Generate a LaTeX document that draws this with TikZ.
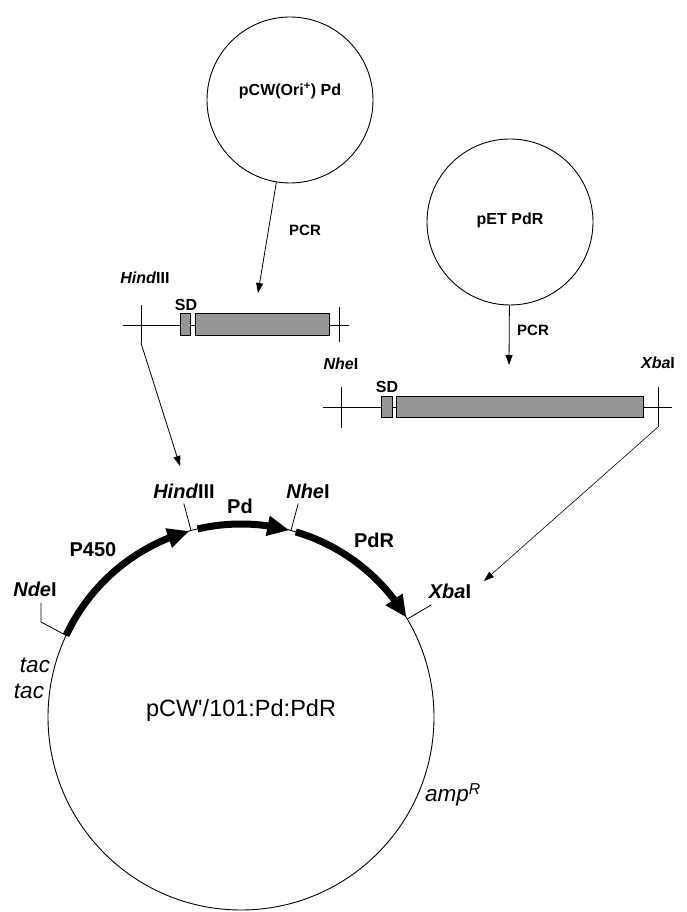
\documentclass[tikz,border=0pt]{standalone}
\usepackage{fontspec}
\setmainfont{Liberation Sans}
\usetikzlibrary{arrows.meta,bending}
\definecolor{boxgray}{RGB}{150,150,150}
\begin{document}
\begin{tikzpicture}[x=1pt,y=1pt,
  plasmid/.style={circle,draw,line width=0.9pt,inner sep=0},
  lbl/.style={font=\fontsize{16}{19}\selectfont\bfseries,inner sep=0},
  pcrlbl/.style={font=\fontsize{15}{18}\selectfont\bfseries,inner sep=0},
  mlbl/.style={font=\fontsize{20}{23}\selectfont\bfseries,inner sep=0},
  ilbl/.style={font=\fontsize{22.5}{26}\selectfont\itshape,inner sep=0},
  gene/.style={draw,line width=0.8pt,fill=boxgray,inner sep=0,anchor=south west,minimum height=22pt},
  thinline/.style={line width=0.8pt},
  flow/.style={line width=0.8pt,-{Triangle[length=10pt,width=7pt]}},
  orf/.style={line width=7pt,-{Triangle[length=22pt,width=19pt,flex]}}
]
\useasboundingbox (0,0) rectangle (687,912);

% source plasmids
\node[plasmid,minimum size=166pt] (pcw) at (290,812) {};
\node[lbl] (pcwlbl) at (290,821) {pCW(Ori\textsuperscript{+}) Pd};
\node[plasmid,minimum size=166pt] (pet) at (510,690) {};
\node[lbl] (petlbl) at (510,692) {pET PdR};

% PCR arrows
\coordinate (f1in) at (258,619);
\coordinate (f2in) at (509,547);
\draw[flow] (pcw) -- (f1in);
\draw[flow] (pet) -- (f2in);
\node[pcrlbl] (pcr1) at (305,682) {PCR};
\node[pcrlbl] (pcr2) at (533,582) {PCR};

% fragment 1 (Pd)
\coordinate (a1) at (123,587);
\coordinate (b1) at (349,587);
\draw[thinline] (a1) -- (b1);
\coordinate (h1t) at (141,607);
\coordinate (h1b) at (141,569);
\draw[thinline] (h1t) -- (h1b);
\coordinate (n1t) at (339,605);
\coordinate (n1b) at (339,570);
\draw[thinline] (n1t) -- (n1b);
\node[gene,minimum width=10pt] (sd1) at (180,576) {};
\node[gene,minimum width=134pt] (pd1) at (195,576) {};
\node[lbl] (hind1) at (145,634) {\textit{Hind}III};
\node[lbl] (sd1lbl) at (186,607) {SD};
\node[lbl] (nhe1) at (341,548) {\textit{Nhe}I};

% fragment 2 (PdR)
\coordinate (a2) at (323,505);
\coordinate (b2) at (672,505);
\draw[thinline] (a2) -- (b2);
\coordinate (n2t) at (341,525);
\coordinate (n2b) at (341,484);
\draw[thinline] (n2t) -- (n2b);
\coordinate (x2t) at (658,525);
\coordinate (x2b) at (658,485);
\draw[thinline] (x2t) -- (x2b);
\node[gene,minimum width=11pt,minimum height=21pt] (sd2) at (381,494) {};
\node[gene,minimum width=247pt,minimum height=21pt] (pdr2) at (396,494) {};
\node[lbl] (sd2lbl) at (387,525) {SD};
\node[lbl] (xba2) at (658,549) {\textit{Xba}I};

% insertion arrows
\coordinate (ins1) at (180,446);
\coordinate (ins2) at (484,331);
\draw[flow] (h1b) -- (ins1);
\draw[flow,line width=0.6pt] (x2b) -- (ins2);

% final plasmid
\node[plasmid,minimum size=386pt] (main) at (241,195) {};
\node[font=\fontsize{23.5}{27}\selectfont,inner sep=0] (mainlbl) at (241,202) {pCW\textquotesingle/101:Pd:PdR};

\coordinate (nde) at ([shift={(155:193)}]main.center);
\coordinate (hind) at ([shift={(105:193)}]main.center);
\coordinate (hindo) at ([shift={(105:221)}]main.center);
\coordinate (nhe) at ([shift={(75:193)}]main.center);
\coordinate (nheo) at ([shift={(75:221)}]main.center);
\coordinate (xba) at ([shift={(30.5:193)}]main.center);
\coordinate (xbao) at ([shift={(30.5:221)}]main.center);

\draw[orf] (nde) arc[start angle=155,end angle=105.5,radius=193];
\draw[orf] ([shift={(103:193)}]main.center) arc[start angle=103,end angle=75.5,radius=193];
\draw[orf] ([shift={(73.5:193)}]main.center) arc[start angle=73.5,end angle=31,radius=193];

\draw[thinline] (hind) -- (hindo);
\draw[thinline] (nhe) -- (nheo);
\draw[thinline] (xba) -- (xbao);
\draw[thinline] (nde) -- (41,290) -- (41,309);

\node[mlbl] (hindl) at (184,421) {\textit{Hind}III};
\node[mlbl] (pdl) at (240,406) {Pd};
\node[mlbl] (nhel) at (308,421) {\textit{Nhe}I};
\node[mlbl] (p450l) at (93,362) {P450};
\node[mlbl] (ndel) at (35,323) {\textit{Nde}I};
\node[mlbl] (pdrl) at (374,372) {PdR};
\node[mlbl] (xbal) at (450,321) {\textit{Xba}I};

\node[ilbl] (tac1) at (35,247) {tac};
\node[ilbl] (tac2) at (29,221) {tac};
\node[ilbl,anchor=base west] (amp) at (425,110) {amp\textsuperscript{R}};
\end{tikzpicture}
\end{document}
